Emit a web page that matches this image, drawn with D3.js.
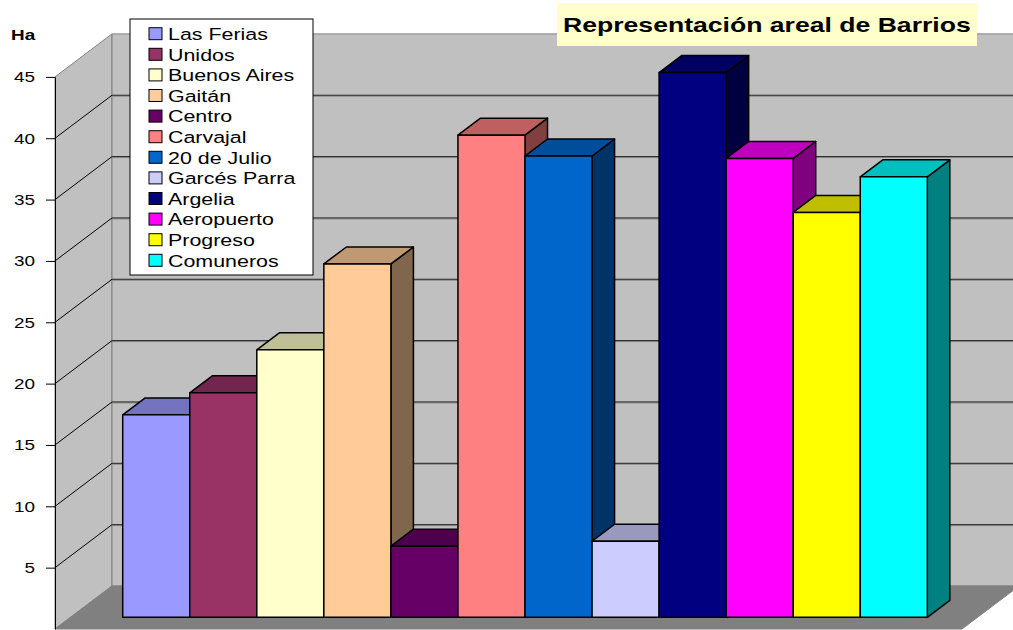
<!DOCTYPE html>
<html lang="es">
<head>
<meta charset="UTF-8">
<title>Representación areal de Barrios</title>
<script src="https://cdn.jsdelivr.net/npm/d3@7/dist/d3.min.js"></script>
<style>
  body { margin: 0; background: #fff; }
  svg { display: block; font-family: Arial, "Liberation Sans", sans-serif; }
</style>
</head>
<body>
<script>
// datos (Ha)
var barrios = ['Las Ferias', 'Unidos', 'Buenos Aires', 'Gaitán', 'Centro', 'Carvajal',
    '20 de Julio', 'Garcés Parra', 'Argelia', 'Aeropuerto', 'Progreso', 'Comuneros'];
var areas = [16.5, 18.3, 21.8, 28.8, 5.8, 39.3, 37.6, 6.2, 44.4, 37.4, 33.0, 35.9];
var colores = ['#9999ff', '#993366', '#ffffcc', '#ffcc99', '#660066', '#ff8080',
    '#0066cc', '#ccccff', '#000080', '#ff00ff', '#ffff00', '#00ffff'];
var yTicks = [5, 10, 15, 20, 25, 30, 35, 40, 45];

var width = 1013, height = 630;
var svg = d3.select('body').append('svg')
    .attr('width', width)
    .attr('height', height);

// plano frontal del piso + desplazamiento oblicuo de la profundidad
var x0 = 55, x1 = 962, dx = 57, dy = 43;
var sx = 1.26; // el texto del original esta estirado en horizontal
var y = d3.scaleLinear().domain([0, 45]).range([629, 76.9]);
var x = d3.scaleBand().domain(barrios).range([107.2, 911.8]);
var zBar = [0.272, 0.667];

function p(xx, v, z) { return [xx + z * dx, y(v) - z * dy]; }
function poly(pts) { return pts.map(function(d) { return d.join(','); }).join(' '); }
function shade(c, k) {
    var r = d3.rgb(c);
    return d3.rgb(r.r * k, r.g * k, r.b * k).formatHex();
}

// paredes
svg.append('polygon')
    .attr('points', poly([p(x0, 0, 0), p(x0, 45, 0), p(x0, 45, 1), p(x0, 0, 1)]))
    .attr('fill', '#c0c0c0').attr('stroke', '#808080');
svg.append('polygon')
    .attr('points', poly([p(x0, 0, 1), p(x0, 45, 1), p(x1, 45, 1), p(x1, 0, 1)]))
    .attr('fill', '#c0c0c0').attr('stroke', '#808080');

// lineas de division
var grid = svg.append('g');
yTicks.filter(function(v) { return v < 45; }).forEach(function(v) {
    var a = p(x0, v, 0), b = p(x0, v, 1), c = p(x1, v, 1);
    grid.append('line').attr('x1', a[0]).attr('y1', a[1]).attr('x2', b[0]).attr('y2', b[1])
        .attr('stroke', '#000');
    grid.append('line').attr('x1', b[0]).attr('y1', b[1] + 1).attr('x2', c[0]).attr('y2', c[1] + 1)
        .attr('stroke', '#8a8a8a');
    grid.append('line').attr('x1', b[0]).attr('y1', b[1]).attr('x2', c[0]).attr('y2', c[1])
        .attr('stroke', '#222');
});

// piso
svg.append('polygon')
    .attr('points', poly([p(x0, 0, 0), p(x1, 0, 0), p(x1, 0, 1), p(x0, 0, 1)]))
    .attr('fill', '#808080').attr('stroke', '#808080');

// eje vertical
var yAxis = d3.axisLeft(y).tickValues(yTicks).tickSize(9).tickSizeOuter(0);
var ax = svg.append('g')
    .attr('transform', 'translate(' + x0 + ',0)')
    .call(yAxis);
ax.select('.domain').attr('stroke', '#000');
ax.selectAll('.tick line').attr('stroke', '#000');
ax.selectAll('.tick text')
    .attr('x', -20 / sx)
    .attr('transform', 'scale(' + sx + ',1)')
    .attr('font-size', 15)
    .attr('font-family', 'Arial, "Liberation Sans", sans-serif')
    .attr('fill', '#000');

// columnas 3D (de izquierda a derecha para que se tapen bien)
var bars = svg.append('g').attr('stroke', '#000').attr('stroke-width', 1.5)
    .attr('stroke-linejoin', 'round');
barrios.forEach(function(b, i) {
    var xl = x(b), xr = xl + x.bandwidth(), v = areas[i];
    var z0 = zBar[0], z1 = zBar[1];
    var g = bars.append('g');
    g.append('polygon')
        .attr('points', poly([p(xr, 0, z0), p(xr, v, z0), p(xr, v, z1), p(xr, 0, z1)]))
        .attr('fill', shade(colores[i], 0.5));
    g.append('polygon')
        .attr('points', poly([p(xl, v, z0), p(xl, v, z1), p(xr, v, z1), p(xr, v, z0)]))
        .attr('fill', shade(colores[i], 0.75));
    g.append('polygon')
        .attr('points', poly([p(xl, 0, z0), p(xl, v, z0), p(xr, v, z0), p(xr, 0, z0)]))
        .attr('fill', colores[i]);
});

// leyenda
var leg = svg.append('g');
leg.append('rect')
    .attr('x', 130).attr('y', 19).attr('width', 183).attr('height', 256)
    .attr('fill', '#fff').attr('stroke', '#000');
barrios.forEach(function(b, i) {
    var yy = 40 + i * 20.6;
    leg.append('rect')
        .attr('x', 149).attr('y', yy - 12.3).attr('width', 13).attr('height', 12)
        .attr('fill', colores[i]).attr('stroke', '#000');
    leg.append('text')
        .attr('transform', 'translate(168,' + yy + ') scale(' + sx + ',1)')
        .attr('font-size', 17)
        .text(b);
});

// titulo
svg.append('rect')
    .attr('x', 557).attr('y', 3).attr('width', 420).attr('height', 43)
    .attr('fill', '#ffffcc');
svg.append('text')
    .attr('transform', 'translate(563,31.5) scale(1.33,1)')
    .attr('font-size', 20).attr('font-weight', 'bold')
    .text('Representación areal de Barrios');

// unidad del eje
svg.append('text')
    .attr('transform', 'translate(11,40) scale(' + sx + ',1)')
    .attr('font-size', 15).attr('font-weight', 'bold')
    .text('Ha');
</script>
</body>
</html>
